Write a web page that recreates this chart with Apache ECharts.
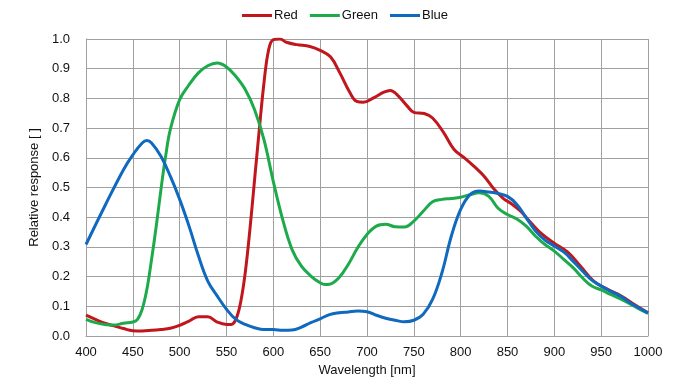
<!DOCTYPE html>
<html>
<head>
<meta charset="utf-8">
<script src="https://cdn.jsdelivr.net/npm/echarts@6/dist/echarts.min.js"></script>
<style>html,body{margin:0;padding:0;background:#fff;}#c{width:690px;height:382px;}</style>
</head>
<body>
<div id="c"></div>
<script>
const seriesNames = ['Red', 'Green', 'Blue'];
const xTicks = [400, 450, 500, 550, 600, 650, 700, 750, 800, 850, 900, 950, 1000];
const yTicks = [0.0, 0.1, 0.2, 0.3, 0.4, 0.5, 0.6, 0.7, 0.8, 0.9, 1.0];

const redX = [400,410,420,430,440,450,460,470,480,490,500,510,520,530,540,550,555,560,565,570,575,580,585,590,595,600,607,614,625,639,650,661,671,682,689,696,707,718,725,732,743,750,761,770,782,793,804,814,825,836,846,853,864,875,885,899,914,928,942,957,971,985,1000];
const redY = [0.070,0.056,0.043,0.034,0.025,0.018,0.017,0.019,0.022,0.026,0.036,0.050,0.065,0.065,0.047,0.039,0.039,0.056,0.112,0.213,0.359,0.527,0.695,0.852,0.964,0.998,1.000,0.989,0.981,0.975,0.962,0.940,0.886,0.818,0.790,0.787,0.802,0.821,0.827,0.813,0.774,0.753,0.749,0.734,0.684,0.628,0.600,0.572,0.538,0.493,0.462,0.448,0.420,0.381,0.348,0.314,0.283,0.235,0.185,0.157,0.135,0.107,0.078];

const greenX = [400,410,420,430,440,450,455,460,465,470,475,480,485,490,500,510,520,530,540,550,560,570,580,590,600,610,620,630,640,650,655,660,670,680,690,700,710,720,730,740,750,760,770,780,790,800,810,820,830,840,850,860,870,880,890,900,910,920,930,940,950,960,970,980,990,1000];
const greenY = [0.056,0.045,0.039,0.037,0.043,0.047,0.056,0.090,0.157,0.258,0.370,0.493,0.605,0.695,0.796,0.846,0.886,0.910,0.919,0.906,0.874,0.830,0.762,0.661,0.520,0.392,0.291,0.235,0.202,0.179,0.173,0.174,0.196,0.241,0.297,0.342,0.370,0.376,0.368,0.367,0.387,0.420,0.452,0.460,0.463,0.467,0.476,0.482,0.470,0.430,0.409,0.394,0.370,0.336,0.308,0.286,0.258,0.230,0.196,0.168,0.155,0.140,0.126,0.110,0.092,0.076];

const blueX = [400,420,440,450,460,465,470,480,490,500,510,520,530,540,550,560,570,580,590,600,610,620,630,640,650,660,670,680,690,700,710,720,730,740,750,760,770,780,790,800,810,820,830,840,850,860,870,880,890,900,910,920,930,940,950,960,970,980,990,1000];
const blueY = [0.308,0.437,0.560,0.610,0.650,0.658,0.650,0.605,0.538,0.460,0.370,0.270,0.185,0.135,0.090,0.056,0.039,0.028,0.022,0.022,0.019,0.020,0.030,0.045,0.058,0.072,0.078,0.081,0.084,0.082,0.070,0.060,0.053,0.048,0.053,0.073,0.123,0.213,0.336,0.426,0.476,0.488,0.485,0.480,0.470,0.443,0.398,0.353,0.323,0.303,0.283,0.252,0.219,0.188,0.168,0.151,0.135,0.114,0.095,0.078];

const colors = ['#C0161C', '#1DAA4A', '#0F69BE'];
const pairs = (xs, ys) => xs.map((x, i) => [x, ys[i]]);
const dataSets = [pairs(redX, redY), pairs(greenX, greenY), pairs(blueX, blueY)];

const chart = echarts.init(document.getElementById('c'), null, {renderer: 'canvas'});
const font = 'Liberation Sans, Arial, sans-serif';
chart.setOption({
  animation: false,
  backgroundColor: '#fff',
  textStyle: {fontFamily: font},
  legend: {
    data: seriesNames,
    top: 4,
    left: 'center',
    itemWidth: 30,
    itemHeight: 3,
    itemGap: 12,
    icon: 'rect',
    textStyle: {fontSize: 13, color: '#111', fontFamily: font, padding: [0, 0, 0, -3]}
  },
  grid: {left: 86, right: 42, top: 39, bottom: 45, containLabel: false},
  xAxis: {
    type: 'value',
    min: xTicks[0], max: xTicks[xTicks.length - 1], interval: 50,
    name: 'Wavelength [nm]',
    nameLocation: 'middle',
    nameGap: 28,
    nameTextStyle: {fontSize: 13, color: '#111', fontFamily: font},
    axisLine: {lineStyle: {color: '#a0a0a0', width: 1}},
    axisTick: {show: false},
    axisLabel: {fontSize: 13, color: '#111', margin: 10, fontFamily: font, formatter: v => String(v)},
    splitLine: {show: true, lineStyle: {color: '#a0a0a0', width: 1}}
  },
  yAxis: {
    type: 'value',
    min: yTicks[0], max: yTicks[yTicks.length - 1], interval: 0.1,
    name: 'Relative response [ ]',
    nameLocation: 'middle',
    nameGap: 36,
    nameRotate: 90,
    nameTextStyle: {fontSize: 13, color: '#111', fontFamily: font},
    axisLine: {show: true, lineStyle: {color: '#a0a0a0', width: 1}},
    axisTick: {show: false},
    axisLabel: {fontSize: 13, color: '#111', margin: 16, fontFamily: font, formatter: v => v.toFixed(1)},
    splitLine: {show: true, lineStyle: {color: '#a0a0a0', width: 1}}
  },
  series: seriesNames.map((n, i) => ({
    name: n,
    type: 'line',
    data: dataSets[i],
    smooth: 0.4,
    showSymbol: false,
    symbol: 'none',
    color: colors[i],
    lineStyle: {width: 3, color: colors[i]}
  }))
});
</script>
</body>
</html>
